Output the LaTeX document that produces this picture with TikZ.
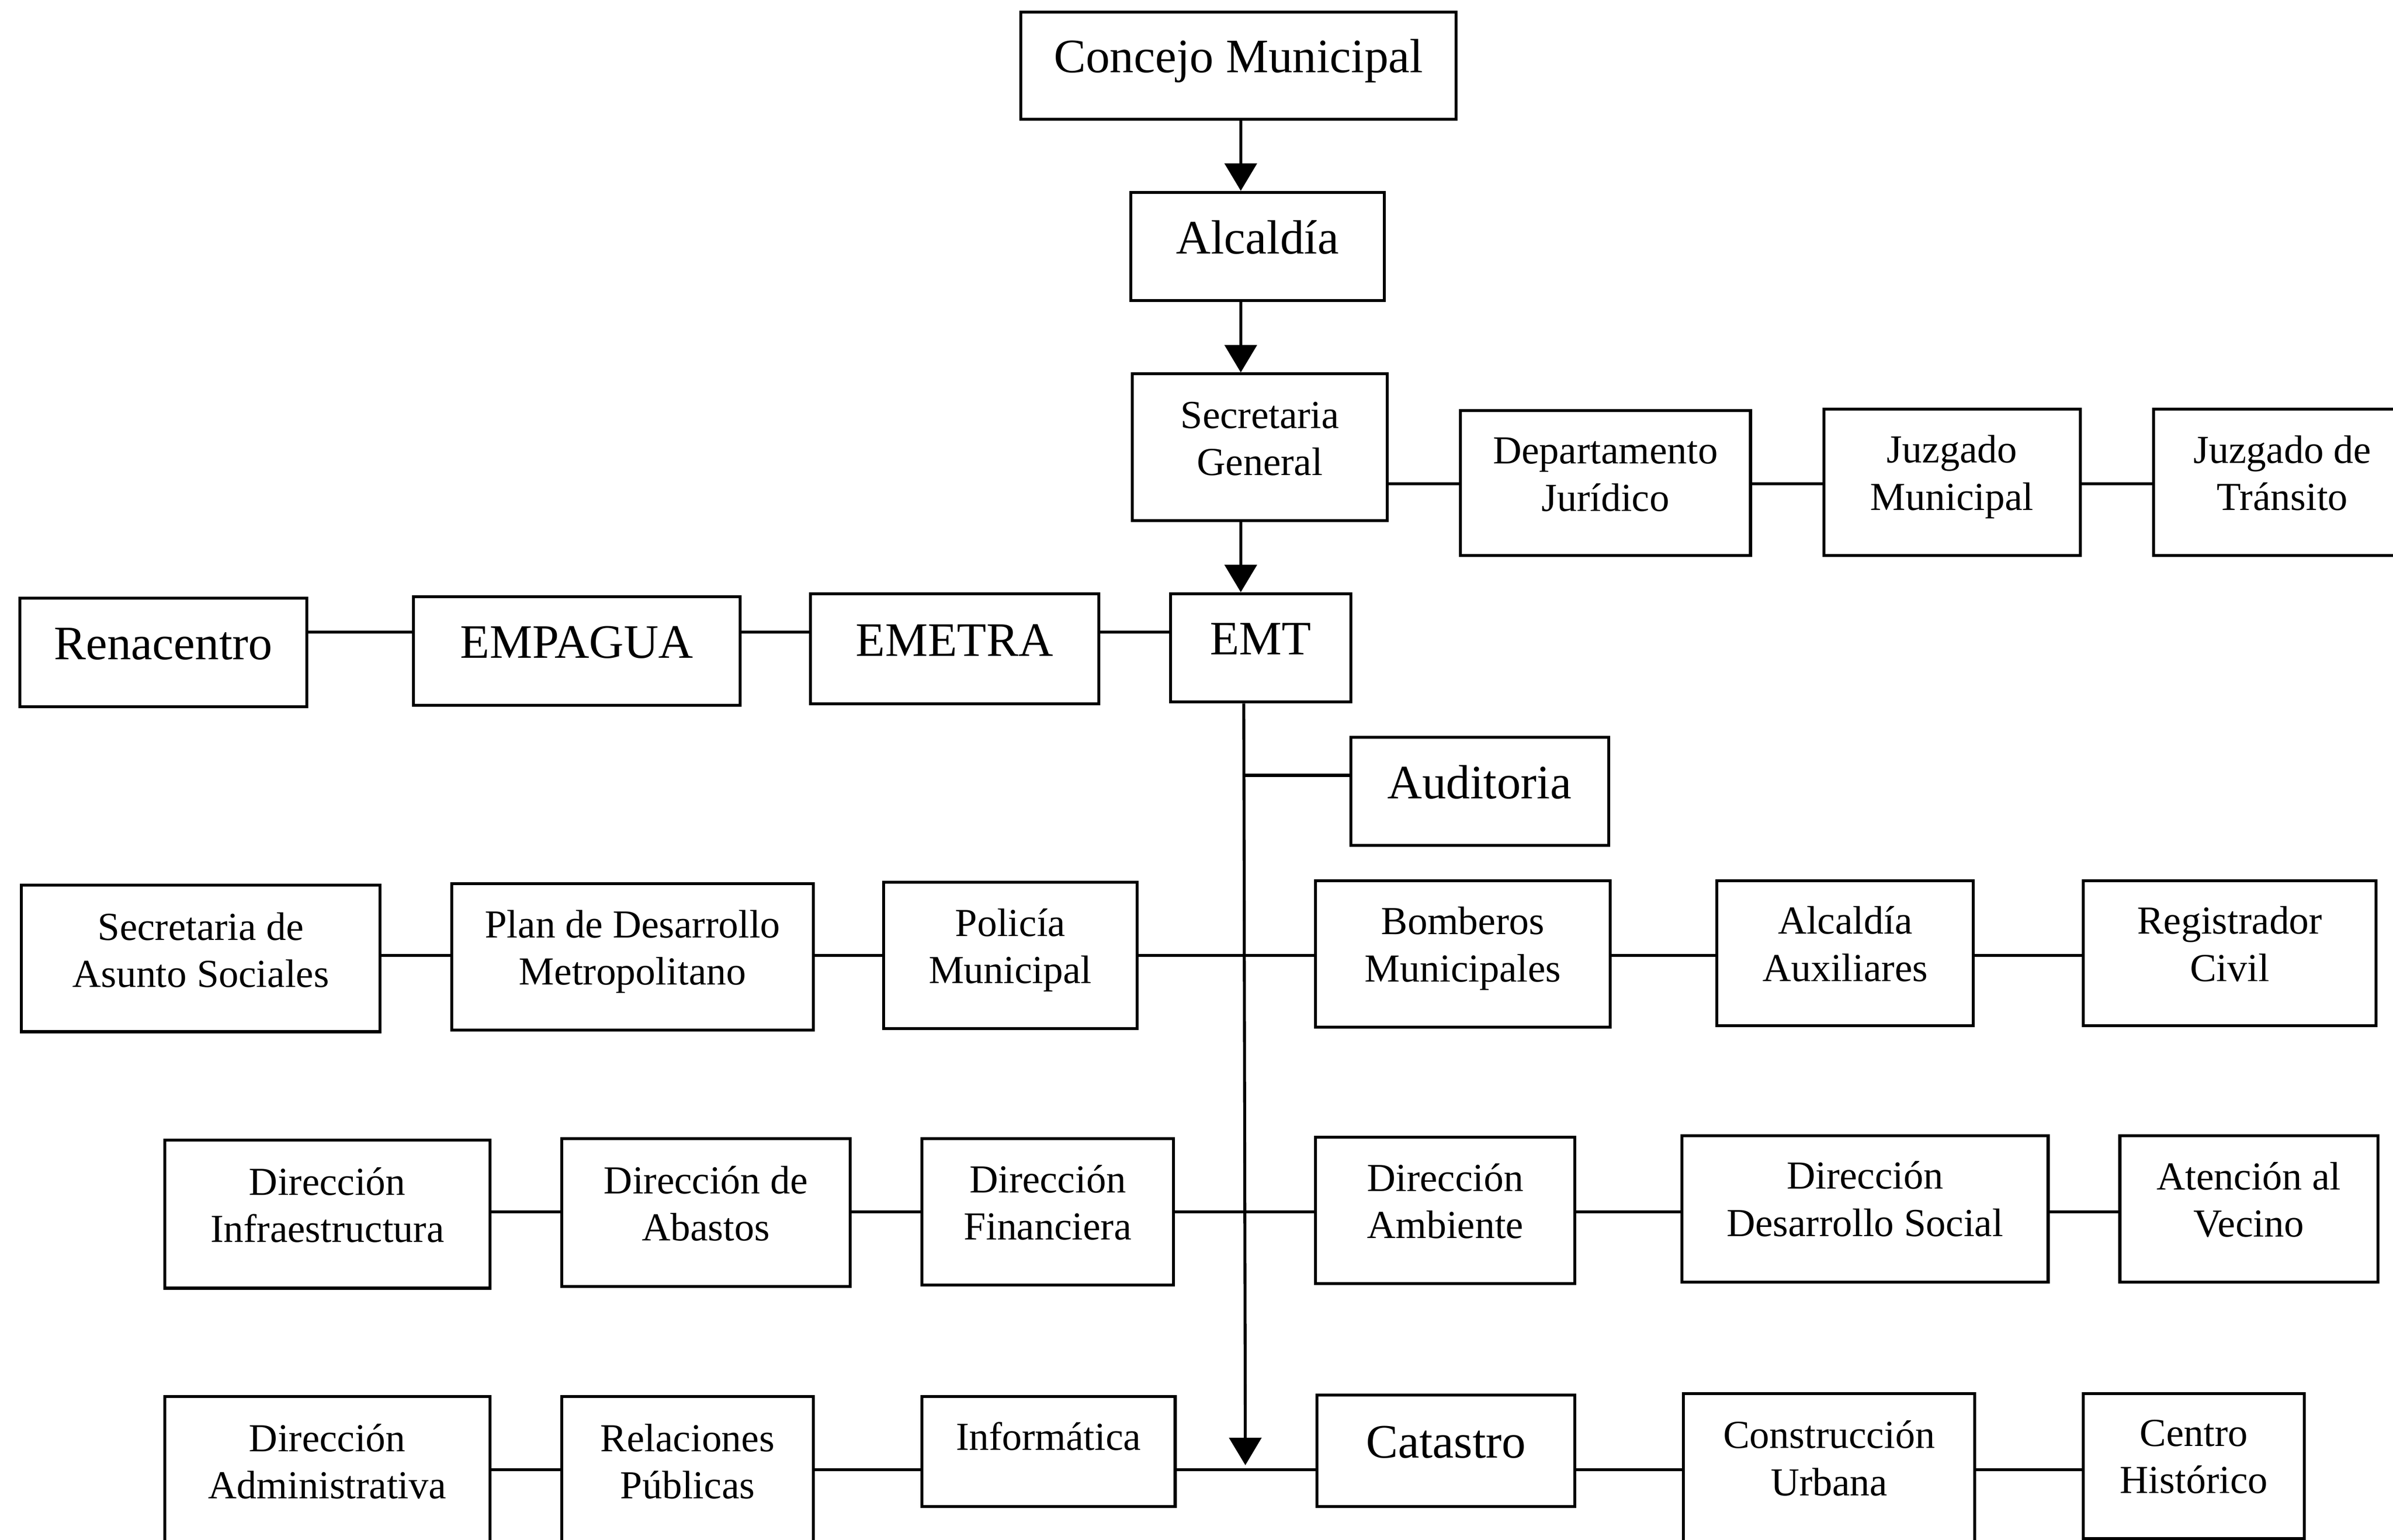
\documentclass[tikz,border=0pt]{standalone}
\usepackage{fontspec}
\setmainfont{Liberation Serif}
\usetikzlibrary{arrows.meta}
\tikzset{
  orgbox/.style={draw=black, line width=1.1pt, fill=white, inner sep=0pt},
  bigtxt/.style={inner sep=0pt, align=center, font=\fontsize{17.9pt}{21pt}\selectfont},
  smalltxt/.style={inner sep=0pt, align=center, font=\fontsize{14.8pt}{17.6pt}\selectfont},
  conn/.style={line width=1.1pt},
  arr/.style={line width=1.1pt, -{Triangle[width=0.42cm,length=0.36cm]}}
}
% \obox[text lift in px]{text style}{name}{x1}{y1}{x2}{y2}{text}
\newcommand\obox[8][5.5]{%
  \pgfmathsetmacro\ocx{(#4+#6)/2}%
  \pgfmathsetmacro\ocy{(#5+#7)/2}%
  \pgfmathsetmacro\oty{(#5+#7)/2-#1}%
  \pgfmathsetmacro\obw{(#6-#4)*0.02}%
  \pgfmathsetmacro\obh{(#7-#5)*0.02}%
  \node[orgbox, minimum width=\obw cm, minimum height=\obh cm] (#3) at (\ocx,\ocy) {};
  \node[#2] (#3t) at (\ocx,\oty) {#8};}
\begin{document}
\begin{tikzpicture}[x=0.02cm, y=-0.02cm]
\useasboundingbox (0,0) rectangle (1568,1009);
\clip (0,0) rectangle (1568,1009);
\fill[white] (0,0) rectangle (1568,1009);
% top chain
\obox[3]{bigtxt}{cm}{669}{8}{954}{78}{Concejo Municipal}
\obox[6]{bigtxt}{alc}{741}{126}{907}{197}{Alcaldía}
\obox{smalltxt}{sg}{742}{245}{909}{341}{Secretaria\\General}
\obox{smalltxt}{dj}{957}{269}{1147}{364}{Departamento\\Jurídico}
\obox[3.5]{smalltxt}{jm}{1195}{268}{1363}{364}{Juzgado\\Municipal}
\obox[6]{smalltxt}{jt}{1411}{268}{1580}{364}{Juzgado de\\Tránsito}
% second row
\obox{bigtxt}{ren}{13}{392}{201}{463}{Renacentro}
\obox{bigtxt}{emp}{271}{391}{485}{462}{EMPAGUA}
\obox{bigtxt}{emet}{531}{389}{720}{461}{EMETRA}
\obox[6]{bigtxt}{emt}{767}{389}{885}{460}{EMT}
\obox[6]{bigtxt}{aud}{885}{483}{1054}{554}{Auditoria}
% third row
\obox{smalltxt}{sas}{14}{580}{249}{676}{Secretaria de\\Asunto Sociales}
\obox[3.5]{smalltxt}{pdm}{296}{579}{533}{675}{Plan de Desarrollo\\Metropolitano}
\obox[3.5]{smalltxt}{pm}{579}{578}{745}{674}{Policía\\Municipal}
\obox[3.5]{smalltxt}{bm}{862}{577}{1055}{673}{Bomberos\\Municipales}
\obox[6]{smalltxt}{aa}{1125}{577}{1293}{672}{Alcaldía\\Auxiliares}
\obox[6]{smalltxt}{rc}{1365}{577}{1557}{672}{Registrador\\Civil}
% fourth row
\obox[6]{smalltxt}{di}{108}{747}{321}{844}{Dirección\\Infraestructura}
\obox[6]{smalltxt}{da}{368}{746}{557}{843}{Dirección de\\Abastos}
\obox[6]{smalltxt}{df}{604}{746}{769}{842}{Dirección\\Financiera}
\obox[6]{smalltxt}{dam}{862}{745}{1032}{841}{Dirección\\Ambiente}
\obox[6.5]{smalltxt}{dds}{1102}{744}{1342}{840}{Dirección\\Desarrollo Social}
\obox[6]{smalltxt}{av}{1389}{744}{1558}{840}{Atención al\\Vecino}
% fifth row
\obox[6]{smalltxt}{dad}{108}{915}{321}{1012}{Dirección\\Administrativa}
\obox[6]{smalltxt}{rp}{368}{915}{533}{1012}{Relaciones\\Públicas}
\obox[10]{smalltxt}{inf}{604}{915}{770}{987}{Informática}
\obox{bigtxt}{cat}{863}{914}{1032}{987}{Catastro}
\obox[7]{smalltxt}{cu}{1103}{913}{1294}{1012}{Construcción\\Urbana}
\obox[6]{smalltxt}{ch}{1365}{913}{1510}{1008}{Centro\\Histórico}
% helper coordinates
\coordinate (ax) at (813,0);
\coordinate (vx) at (815,0);
\coordinate (y1) at (0,317);
\coordinate (y2) at (0,414);
\coordinate (ya) at (0,508);
\coordinate (y3) at (0,626);
\coordinate (y4) at (0,794);
\coordinate (y5) at (0,963);
\coordinate (vbot) at (816,960);
% vertical arrows
\draw[arr] (cm.south -| ax) -- (alc.north -| ax);
\draw[arr] (alc.south -| ax) -- (sg.north -| ax);
\draw[arr] (sg.south -| ax) -- (emt.north -| ax);
\draw[arr] (emt.south -| vx) -- (vbot);
% secretaria chain
\draw[conn] (sg.east |- y1) -- (dj.west |- y1);
\draw[conn] (dj.east |- y1) -- (jm.west |- y1);
\draw[conn] (jm.east |- y1) -- (jt.west |- y1);
% second row
\draw[conn] (ren.east |- y2) -- (emp.west |- y2);
\draw[conn] (emp.east |- y2) -- (emet.west |- y2);
\draw[conn] (emet.east |- y2) -- (emt.west |- y2);
\draw[conn] (vx |- ya) -- (aud.west |- ya);
% third row
\draw[conn] (sas.east |- y3) -- (pdm.west |- y3);
\draw[conn] (pdm.east |- y3) -- (pm.west |- y3);
\draw[conn] (pm.east |- y3) -- (bm.west |- y3);
\draw[conn] (bm.east |- y3) -- (aa.west |- y3);
\draw[conn] (aa.east |- y3) -- (rc.west |- y3);
% fourth row
\draw[conn] (di.east |- y4) -- (da.west |- y4);
\draw[conn] (da.east |- y4) -- (df.west |- y4);
\draw[conn] (df.east |- y4) -- (dam.west |- y4);
\draw[conn] (dam.east |- y4) -- (dds.west |- y4);
\draw[conn] (dds.east |- y4) -- (av.west |- y4);
% fifth row
\draw[conn] (dad.east |- y5) -- (rp.west |- y5);
\draw[conn] (rp.east |- y5) -- (inf.west |- y5);
\draw[conn] (inf.east |- y5) -- (cat.west |- y5);
\draw[conn] (cat.east |- y5) -- (cu.west |- y5);
\draw[conn] (cu.east |- y5) -- (ch.west |- y5);
\end{tikzpicture}
\end{document}
